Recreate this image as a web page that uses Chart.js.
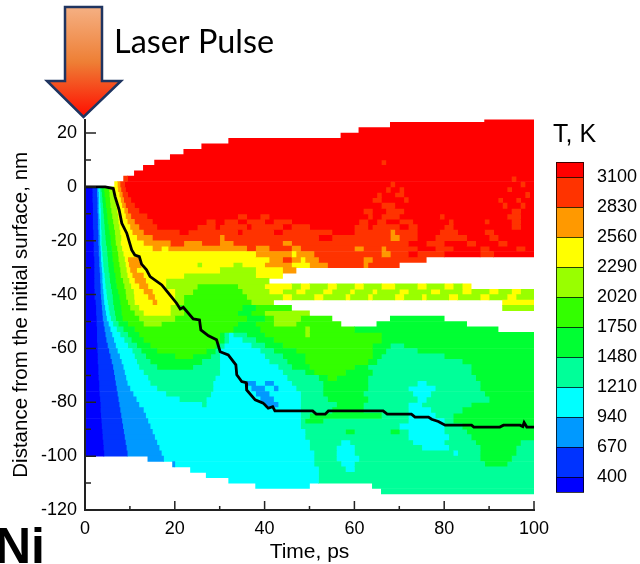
<!DOCTYPE html>
<html>
<head>
<meta charset="utf-8">
<title>Ni laser pulse</title>
<script src="https://cdn.jsdelivr.net/npm/chart.js@4"></script>
<style>
  html, body { margin: 0; padding: 0; background: #fff; overflow: hidden; }
  canvas { display: block; }
</style>
</head>
<body>
<canvas id="myChart" width="640" height="564"></canvas>
<script>
// colours of the 12 temperature levels, coldest first
const levelColors = ["#0000ff", "#0033ff", "#0099ff", "#00ffff", "#00ff99", "#00ff33",
  "#33ff00", "#99ff00", "#ffff00", "#ff9900", "#ff3300", "#ff0000"];
const tempLabels = ["3100", "2830", "2560", "2290", "2020", "1750", "1480", "1210", "940", "670", "400"];

// melting front, time in ps
const frontTime = [0, 4.5, 6.3, 6.7, 7.6, 8.2, 9.3, 10.4, 11.1, 12.1, 12.6, 13.7, 14.5, 17.1, 18.9, 20.4, 21.2, 21.9,
  24.1, 25.5, 25.8, 27.5, 29.3, 30.1, 31.9, 33.6, 33.8, 34.9, 35.9, 36, 37.9, 39.7, 40.8, 41.8, 42.3, 50.7, 51.5,
  53.5, 54.2, 66.4, 67.3, 72.7, 73.5, 76.5, 77.2, 78.7, 80.2, 86.1, 86.6, 92.4, 93.2, 96.9, 97.5, 97.8, 98.4, 100];
const frontDepth = [0, 0, -0.6, -3.6, -8.5, -13.5, -17.2, -23.4, -25.3, -25.9, -28.7, -30.8, -33.3, -36.4, -40.1, -43.2, -45.3, -44.7,
  -49, -49.4, -53.1, -55.3, -56.8, -61.2, -62.4, -66.1, -69.8, -72.3, -72.7, -75.4, -79.1, -80.3, -82.2, -81.6, -83.2, -83.2, -84.4,
  -84.4, -83.2, -83.2, -84.4, -84.4, -85.5, -85.5, -86.3, -87.1, -88.5, -88.5, -89.2, -89.2, -88.5, -88.5, -89, -87.5, -89.2, -89.2];

// row centres in nm, each row is 2 nm high
const depths = [25, 23, 21, 19, 17, 15, 13, 11, 9, 7, 5, 3, 1,
  -1, -3, -5, -7, -9, -11, -13, -15, -17, -19, -21, -23, -25, -27, -29, -31, -33, -35, -37, -39, -41, -43, -45, -47, -49,
  -51, -53, -55, -57, -59, -61, -63, -65, -67, -69, -71, -73, -75, -77, -79, -81, -83, -85, -87, -89, -91, -93, -95, -97, -99,
  -101, -103, -105, -107, -109, -111, -113];

// one list per row: level, time where it ends, level, time where it ends... level -1 is empty
const rowBands = [
  [-1,89, 11,100],
  [-1,68, 11,100],
  [-1,61, 11,100],
  [-1,57, 11,100],
  [-1,32, 11,100],
  [-1,26, 11,100],
  [-1,22, 11,100],
  [-1,19, 11,100],
  [-1,15.5, 11,66, 10,67, 11,100],
  [-1,13, 11,100],
  [-1,11, 11,100],
  [-1,8.6, 10,9.5, 11,95, 10,96, 11,100],
  [-1,6.6, 8,7.2, 9,7.8, 10,8.8, 11,68, 10,69, 11,97, 10,98, 11,100],
  // -1
  [0,1.6, 1,2.6, 2,2.9, 3,3.2, 4,3.6, 5,4.2, 6,5.3, 7,6.3, 8,7.3, 9,8, 10,9, 11,67, 10,68, 11,70, 10,71, 11,94, 10,95, 11,100],
  [0,1.6, 1,2.6, 2,3, 3,3.3, 4,3.7, 5,4.3, 6,5.4, 7,6.5, 8,7.6, 9,8.3, 10,9.5, 11,65, 10,66, 11,69, 10,71, 11,98, 10,99, 11,100],
  [0,1.6, 1,2.7, 2,3, 3,3.3, 4,3.8, 5,4.5, 6,5.5, 7,6.7, 8,7.9, 9,8.6, 10,10.2, 11,64, 10,66, 11,71, 10,72, 11,92, 10,93, 11,96, 10,97, 11,100],
  [0,1.7, 1,2.7, 2,3, 3,3.4, 4,3.9, 5,4.6, 6,5.6, 7,6.9, 8,8.2, 9,9, 10,11, 11,66, 10,69, 11,93, 10,94, 11,97, 10,98, 11,100],
  [0,1.7, 1,2.7, 2,3, 3,3.5, 4,4, 5,4.8, 6,5.8, 7,7.1, 8,8.7, 9,9.5, 10,12, 11,62, 10,64, 11,67, 10,71, 11,95, 10,97, 11,100],
  [0,1.7, 1,2.8, 2,3.1, 3,3.5, 4,4.1, 5,4.9, 6,6, 7,7.3, 8,9, 9,10.2, 10,13.8, 11,34, 10,36, 11,39, 10,41, 11,63, 10,64, 11,66, 10,70, 11,79, 10,80, 11,94, 10,97, 11,100],
  [0,1.7, 1,2.8, 2,3.2, 3,3.5, 4,4.2, 5,5, 6,6.2, 7,7.4, 8,9.4, 9,11, 10,15, 11,27, 10,29, 11,31, 10,34, 11,36, 10,40, 11,42, 10,46, 11,61, 10,63, 11,65, 10,67, 11,70, 10,73, 11,81, 10,82, 11,89, 10,90, 11,95, 10,97, 11,100],
  [0,1.7, 1,2.8, 2,3.2, 3,3.5, 4,4.3, 5,5.2, 6,6.4, 7,7.6, 8,10, 9,12, 10,16, 11,25, 10,29, 11,30, 10,36, 11,37, 10,44, 11,46, 10,50, 11,60, 10,63, 11,64, 10,70, 11,72, 10,74, 11,80, 10,82, 11,95, 10,97, 11,100],
  [0,1.8, 1,2.9, 2,3.2, 3,3.6, 4,4.4, 5,5.4, 6,6.6, 7,7.8, 8,10.5, 9,13, 10,21, 11,23, 10,34, 11,35, 10,42, 11,44, 10,55, 11,60, 10,68, 9,69, 10,74, 11,79, 10,83, 11,89, 10,91, 11,100],
  [0,1.8, 1,2.9, 2,3.3, 3,3.6, 4,4.5, 5,5.6, 6,6.7, 7,8, 8,11.5, 9,15, 10,30, 9,31, 10,52, 11,55, 10,68, 9,70, 10,74, 11,78, 10,85, 11,90, 10,92, 11,100],
  [0,1.9, 1,2.9, 2,3.3, 3,3.6, 4,4.6, 5,5.7, 6,6.8, 7,7.9, 8,13, 9,19, 10,22, 9,26, 10,30, 9,33, 10,44, 9,46, 10,72, 11,76, 10,80, 11,85, 10,87, 11,92, 10,94, 11,100],
  [0,1.9, 1,3, 2,3.4, 3,3.7, 4,4.8, 5,5.9, 6,7.1, 7,8.2, 8,15, 9,17, 8,18.5, 9,36, 10,38, 9,41, 10,46, 9,48, 10,60, 9,62, 10,66, 9,67, 10,74, 11,78, 10,82, 11,88, 10,90, 11,96, 10,98, 11,100],
  [0,1.9, 1,3, 2,3.5, 3,3.8, 4,4.9, 5,6, 6,7.3, 7,8.5, 8,38, 9,46, 8,47, 9,51, 10,66, 9,68, 10,72, 11,74, 10,80, 11,88, 10,91, 11,100],
  [0,2, 1,3.1, 2,3.5, 3,3.9, 4,5, 5,6.1, 6,7.4, 7,8.8, 8,9.5, 9,12, 8,41, 9,44, 10,46, 9,48, 8,49, 9,52, 10,62, 9,64, 10,76],
  [0,2, 1,3.1, 2,3.6, 3,4, 4,5.1, 5,6.3, 6,7.6, 7,9, 8,9.7, 9,12.5, 8,25, 7,26, 8,33, 7,35, 8,40, 9,46, 8,50, 9,54, 10,62, 9,63, 10,70],
  [0,2, 1,3.2, 2,3.7, 3,4.1, 4,5.2, 5,6.4, 6,7.8, 7,9.2, 8,10, 9,11.5, 8,30, 7,38, 8,44, 9,47],
  [0,2, 1,3.3, 2,3.8, 3,4.3, 4,5.4, 5,6.7, 6,7.9, 7,9.4, 8,10.5, 9,13, 8,22, 7,38, 8,44],
  [0,2, 1,3.3, 2,3.8, 3,4.4, 4,5.5, 5,6.8, 6,8.4, 7,9.8, 8,11, 9,13.5, 8,18, 7,41],
  [0,2, 1,3.4, 2,3.9, 3,4.5, 4,5.7, 5,7, 6,8.7, 7,10.2, 8,12, 9,14, 8,18, 7,25, 6,34, 7,40, 8,46, 7,48, 8,50, 7,54, 8,56, 7,60, 8,62, 7,66, 8,69, 7,74, 8,76, 7,80, 8,82, 7,84, 8,86],
  [0,2.1, 1,3.4, 2,4, 3,4.7, 4,5.9, 5,7.3, 6,9, 7,10.8, 8,13, 9,15, 8,20, 7,24, 6,35, 7,41, 8,44, 7,47, 8,49, 7,53, 8,55, 7,59, 8,60, 7,64, 8,65, 7,70, 8,72, 7,77, 8,79, 7,84, 8,86, 7,90, 8,92, 7,95, 8,97, 7,100],
  [0,2.1, 1,3.5, 2,4.1, 3,4.8, 4,6.1, 5,7.6, 6,9.1, 7,10.9, 8,14, 9,15.5, 8,20, 7,22, 6,36, 7,44, 8,46, 7,51, 8,53, 7,58, 8,59, 7,63, 8,64, 7,69, 8,71, 7,75, 8,76, 7,81, 8,83, 7,88, 8,90, 7,94, 8,96, 7,100],
  [0,2.3, 1,3.6, 2,4.2, 3,5, 4,6.2, 5,7.8, 6,9.5, 7,11, 8,15, 9,16, 8,20, 7,22, 6,37, 7,42, -1,93, 8,100],
  [0,2.4, 1,3.7, 2,4.4, 3,5.2, 4,6.4, 5,8, 6,10, 7,12, 8,19, 7,21, 6,35, 5,38, 6,46, -1,93, 7,100],
  [0,2.4, 1,3.8, 2,4.6, 3,5.4, 4,6.6, 5,8.1, 6,11, 7,13, 8,19, 7,22, 6,34, 5,37, 6,40, 7,50],
  [0,2.5, 1,3.9, 2,4.8, 3,5.7, 4,6.8, 5,8.3, 6,12, 7,20, 6,36, 5,40, 6,42, 7,48, 6,55, -1,68, 5,80],
  // -51
  [0,2.5, 1,4.1, 2,5.2, 3,6.2, 4,7.4, 5,9.5, 6,13, 7,17, 6,34, 5,38, 6,42, 7,47, 6,57, -1,65, 5,85],
  [0,2.6, 1,4.3, 2,5.6, 3,7, 4,8.5, 5,11, 6,33, 5,39, 6,49, 7,50, 6,60, 5,92],
  [0,2.6, 1,4.5, 2,6, 3,7.8, 4,9.5, 5,12, 6,30, 5,31, 4,32, 3,33, 4,36, 5,40, 6,49, 7,50, 6,66, 5,100],
  [0,2.6, 1,4.7, 2,6.4, 3,8.7, 4,10.3, 5,13, 6,30, 5,31, 4,32, 3,35, 4,38, 5,42, 6,66, 5,100],
  [0,2.7, 1,5, 2,6.8, 3,9.5, 4,11.5, 5,14.5, 6,29, 5,30, 4,31, 3,37, 4,40, 5,44, 6,64, 5,68, 4,71, 5,100],
  [0,2.7, 1,5.3, 2,7.2, 3,10.5, 4,12.5, 5,16, 6,27, 5,29, 4,30, 3,39, 4,42, 5,47, 6,64, 5,67, 4,74, 5,100],
  [0,2.8, 1,5.6, 2,7.7, 3,11, 4,13.5, 5,20, 6,24, 5,28, 4,30, 3,40, 4,44, 5,49, 6,64, 5,66, 4,80, 5,100],
  [0,2.8, 1,5.9, 2,8.1, 3,11.5, 4,14.5, 5,26, 4,30, 3,41, 4,45, 5,49, 6,63, 5,65, 4,84, 5,100],
  [0,2.9, 1,6.2, 2,8.5, 3,12, 4,16, 5,24, 4,30, 3,43, 4,46, 5,50, 6,60, 5,63, 4,86, 5,100],
  [0,2.9, 1,6.4, 2,8.8, 3,13, 4,30, 3,44, 4,49, 5,51, 6,58, 5,64, 4,86, 5,100],
  [0,3, 1,6.6, 2,9.1, 3,14, 4,29, 3,45, 4,52, 5,54, 6,56, 5,63, 4,87, 5,100],
  [0,3.1, 1,6.8, 2,9.4, 3,14.5, 4,28.5, 3,36, 2,38, 3,40, 2,42, 3,46, 4,53, 5,63, 4,74, 3,76, 4,88, 5,100],
  [0,3.1, 1,7, 2,10, 3,16, 4,28.5, 3,37, 2,40, 3,42, 2,43, 3,47, 4,53, 5,63, 4,72, 3,78, 4,88, 5,100],
  [0,3.2, 1,7.2, 2,10.7, 3,18, 4,28, 3,38, 2,41, 3,48, 4,53, 5,62, 4,73, 3,77, 4,89, 5,100],
  [0,3.3, 1,7.4, 2,11.4, 3,21, 4,27, 3,39, 2,42, 3,48, 4,54, 5,63, 4,74, 3,76, 4,90, 5,100],
  [0,3.4, 1,7.6, 2,12, 3,26, 4,27, 3,40, 2,43, 3,48, 4,56, 5,62, 4,72, 3,75, 4,86, 5,100],
  [0,3.4, 1,7.8, 2,13, 3,48, 4,55, 5,62, 4,72, 3,77, 4,84, 5,100],
  [0,3.5, 1,8, 2,13.5, 3,48, 4,50, 5,66, 4,72, 3,78, 4,82, 5,100],
  [0,3.6, 1,8.2, 2,14, 3,48, 4,49, 5,53, 4,72, 3,80, 4,82, 5,100],
  [0,3.7, 1,8.4, 2,14.5, 3,48, 4,70, 3,80, 4,84, 5,100],
  [0,3.8, 1,8.6, 2,15, 3,49, 4,58, 5,60, 4,68, 5,70, 4,72, 3,80, 4,85, 5,100],
  [0,3.9, 1,8.8, 2,15.5, 3,49, 4,72, 3,81, 4,86, 5,100],
  [0,4, 1,9, 2,16, 3,50, 4,57, 3,59, 4,73, 3,80, 4,87, 5,97, 4,100],
  [0,4.1, 1,9.2, 2,16.5, 3,50, 4,56, 3,60, 4,75, 3,81, 4,88, 5,96, 4,100],
  [0,4.2, 1,9.4, 2,17, 3,51, 4,56, 3,60, 4,82, 3,83, 4,88, 5,96, 4,100],
  // -101
  [-1,14, 2,17.5, 3,51, 4,56, 3,61, 4,88, 5,95, 4,100],
  [-1,19.5, 2,20, 3,51, 4,57, 3,60, 4,89, 5,94, 4,100],
  [-1,23.5, 3,52, 4,58, 3,60, 4,100],
  [-1,27, 3,52, 4,100],
  [-1,32, 3,52, 4,100],
  [-1,38, 3,50, -1,64, 4,100],
  [-1,66, 4,100],
];

// k-th coloured segment of every row goes in the k-th bar dataset
const segmentSets = [];
rowBands.forEach((row, r) => {
  let start = 0;
  let k = 0;
  for (let i = 0; i < row.length; i += 2) {
    if (row[i] >= 0) {
      if (!segmentSets[k]) segmentSets[k] = { data: [], backgroundColor: [] };
      segmentSets[k].data.push({ y: depths[r], x: [start, row[i + 1]] });
      segmentSets[k].backgroundColor.push(levelColors[row[i]]);
      k++;
    }
    start = row[i + 1];
  }
});

const textFont = '"Liberation Sans", Arial, sans-serif';

/* EVERYTHING AROUND THE PLOT THAT IS NOT AN AXIS */
const extras = {
  id: "extras",
  afterDraw(chart) {
    const c = chart.ctx;
    const x = chart.scales.x;
    const y = chart.scales.y;

    // ticks point into the plot, every second one is longer
    c.strokeStyle = "#222";
    c.lineWidth = 1.5;
    c.beginPath();
    x.ticks.forEach((t) => {
      const px = x.getPixelForValue(t.value);
      c.moveTo(px, y.bottom);
      c.lineTo(px, y.bottom - (t.value % 20 === 0 ? 9 : 4));
    });
    y.ticks.forEach((t) => {
      const py = y.getPixelForValue(t.value);
      c.moveTo(x.left, py);
      c.lineTo(x.left + (t.value % 20 === 0 ? 11 : 6), py);
    });
    c.stroke();

    // colour legend
    const reversed = levelColors.slice().reverse();
    reversed.forEach((color, i) => {
      const top = i === 0 ? 162 : 177 + 30 * (i - 1);
      const h = i === 0 || i === reversed.length - 1 ? 15 : 30;
      c.fillStyle = color;
      c.fillRect(556, top, 28, h);
      c.strokeStyle = "rgba(0,0,0,0.75)";
      c.lineWidth = 1;
      c.strokeRect(556.5, top + 0.5, 27, h);
    });
    c.fillStyle = "#000";
    c.textBaseline = "middle";
    c.textAlign = "left";
    c.font = "18px " + textFont;
    tempLabels.forEach((label, i) => c.fillText(label, 597, 177 + 30 * i));
    c.textBaseline = "alphabetic";
    c.font = "25px " + textFont;
    c.fillText("T, K", 553, 142);
    c.font = "bold 50px " + textFont;
    c.fillText("Ni", -5, 563);
    c.font = "32.4px Lato, sans-serif";
    c.fillText("Laser Pulse", 114, 53);

    // laser arrow
    const g = c.createLinearGradient(0, 7, 0, 117);
    g.addColorStop(0, "#f5b083");
    g.addColorStop(0.5, "#ee7f35");
    g.addColorStop(1, "#ff0d00");
    c.fillStyle = g;
    c.strokeStyle = "#1f3460";
    c.lineWidth = 2.5;
    c.lineJoin = "miter";
    c.beginPath();
    c.moveTo(65, 7);
    c.lineTo(102, 7);
    c.lineTo(102, 81);
    c.lineTo(121, 81);
    c.lineTo(83.5, 117);
    c.lineTo(47, 81);
    c.lineTo(65, 81);
    c.closePath();
    c.fill();
    c.stroke();
  },
};

new Chart(document.getElementById("myChart"), {
  type: "bar",
  data: {
    datasets: [
      {
        type: "line",
        data: frontTime.map((t, i) => ({ x: t, y: frontDepth[i] })),
        borderColor: "#000",
        borderWidth: 2.8,
        pointRadius: 0,
        tension: 0,
        indexAxis: "x",
        order: 0,
      },
      ...segmentSets.map((s) => ({
        data: s.data,
        backgroundColor: s.backgroundColor,
        borderWidth: 0,
        barPercentage: 1,
        categoryPercentage: 1,
        grouped: false,
        order: 1,
      })),
    ],
  },
  plugins: [extras],
  options: {
    indexAxis: "y",
    responsive: false,
    animation: false,
    layout: { padding: { top: 119.6, right: 106, left: 0, bottom: 0 } },
    plugins: { legend: { display: false }, tooltip: { enabled: false } },
    scales: {
      x: {
        type: "linear",
        min: 0,
        max: 100,
        afterFit: (s) => { s.height = 54; },
        grid: { display: false, drawTicks: false },
        border: { color: "#222", width: 2, z: 1 },
        ticks: {
          stepSize: 10,
          autoSkip: false,
          maxRotation: 0,
          padding: 8,
          color: "#000",
          font: { family: textFont, size: 18 },
          callback: (v) => (v % 20 === 0 ? String(v) : ""),
        },
        title: {
          display: true,
          text: "Time, ps",
          color: "#000",
          font: { family: textFont, size: 21 },
          padding: { top: 0, bottom: -1 },
        },
      },
      y: {
        type: "linear",
        offset: false,
        min: -120,
        max: 25,
        afterFit: (s) => { s.width = 85; },
        grid: { display: false, drawTicks: false, offset: false },
        border: { color: "#222", width: 2, z: 1 },
        ticks: {
          stepSize: 10,
          includeBounds: false,
          autoSkip: false,
          padding: 8,
          color: "#000",
          font: { family: textFont, size: 18 },
          callback: (v) => (v % 20 === 0 ? String(v) : ""),
        },
        title: {
          display: true,
          text: "Distance from the initial surface, nm",
          color: "#000",
          font: { family: textFont, size: 20.5 },
          padding: { top: 9, bottom: 0 },
        },
      },
    },
  },
});
</script>
</body>
</html>
